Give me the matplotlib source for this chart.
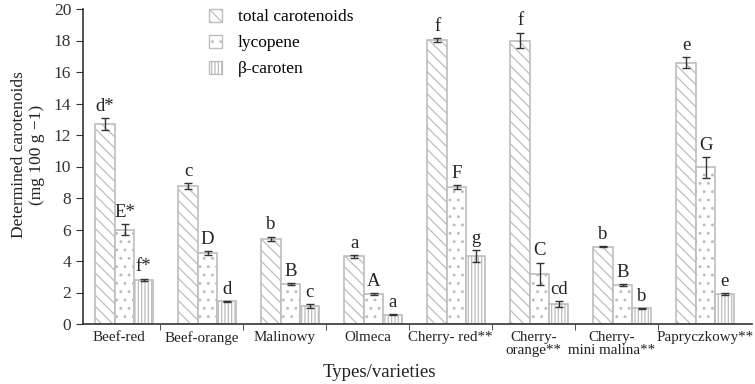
import matplotlib
matplotlib.use("Agg")
import matplotlib.pyplot as plt
from matplotlib.patches import Patch
import numpy as np

plt.rcParams['font.family'] = ['Liberation Serif', 'DejaVu Serif']
plt.rcParams['hatch.linewidth'] = 0.9

categories = ["Beef-red", "Beef-orange", "Malinowy", "Olmeca", "Cherry- red**",
              "Cherry-\norange**", "Cherry-\nmini malina**", "Papryczkowy**"]
series_names = ["total carotenoids", "lycopene", "β-caroten"]

total = [12.7, 8.75, 5.4, 4.3, 18.05, 18.0, 4.9, 16.6]
total_err = [0.4, 0.2, 0.15, 0.08, 0.12, 0.5, 0.04, 0.35]
lycopene = [6.0, 4.5, 2.55, 1.9, 8.7, 3.2, 2.5, 9.95]
lycopene_err = [0.35, 0.15, 0.05, 0.05, 0.1, 0.7, 0.06, 0.65]
beta = [2.8, 1.45, 1.15, 0.6, 4.3, 1.25, 1.0, 1.9]
beta_err = [0.08, 0.03, 0.12, 0.03, 0.37, 0.2, 0.02, 0.05]

total_letters = ["d*", "c", "b", "a", "f", "f", "b", "e"]
lycopene_letters = ["E*", "D", "B", "A", "F", "C", "B", "G"]
beta_letters = ["f*", "d", "c", "a", "g", "cd", "b", "e"]

yticks = [0, 2, 4, 6, 8, 10, 12, 14, 16, 18, 20]

fig = plt.figure(figsize=(7.55, 3.84), dpi=100)
ax = fig.add_axes([83/755, 60/384, 669/755, 315/384])

x = np.arange(len(categories))
width = 0.235
offsets = [-0.163, 0.072, 0.30]
hatches = ['\\\\\\', '..', '|||||']
edge = '#bdbdbd'
series = [(total, total_err, total_letters),
          (lycopene, lycopene_err, lycopene_letters),
          (beta, beta_err, beta_letters)]

for (vals, errs, letters), off, h, name in zip(series, offsets, hatches, series_names):
    xs = x + off
    ax.bar(xs, vals, width, facecolor='white', edgecolor=edge, hatch=h,
           linewidth=1.2, label=name, zorder=2)
    ax.errorbar(xs, vals, yerr=errs, fmt='none', ecolor='#333333',
                elinewidth=1.0, capsize=3, capthick=1.0, zorder=3)
    for xi, v, e, lab in zip(xs, vals, errs, letters):
        ax.text(xi, v + e + 0.2, lab, ha='center', va='bottom',
                fontsize=13.5, color='#222222')

ax.set_xlim(-0.43, 7.63)
ax.set_ylim(0, 20)
ax.set_yticks(yticks)
ax.tick_params(axis='y', direction='out', length=5, labelsize=12.5, colors='#333333')
# label positions (ticks of zero length); the last two nudged apart to avoid touching
label_pos = x.astype(float).copy()
label_pos[6] -= 0.06
label_pos[7] += 0.06
ax.set_xticks(label_pos)
ax.set_xticklabels(categories, fontsize=10.8, color='#222222', linespacing=1.0)
ax.tick_params(axis='x', which='major', length=0, pad=5)
ax.set_xticks(np.arange(len(categories) - 1) + 0.5, minor=True)
ax.tick_params(axis='x', which='minor', length=4, direction='out', color='#333333')
for s in ['top', 'right']:
    ax.spines[s].set_visible(False)
for s in ['left', 'bottom']:
    ax.spines[s].set_color('#333333')
    ax.spines[s].set_linewidth(1.2)

handles = [Patch(facecolor='white', edgecolor=edge, hatch=h) for h in hatches]
ax.legend(handles, series_names, loc='upper left', bbox_to_anchor=(0.165, 1.05),
          frameon=False, fontsize=12.5, handlelength=0.75, handleheight=0.75,
          labelspacing=0.55, handletextpad=0.9)

fig.text(28/755, 1 - 155/384, "Determined carotenoids\n(mg 100 g \u22121)",
         rotation=90, ha='center', va='center', fontsize=12.5, color='#222222',
         multialignment='center')
fig.text(379/755, 1 - 364/384, "Types/varieties", ha='center', va='top',
         fontsize=13.5, color='#222222')

fig.savefig("out.png", dpi=100)
